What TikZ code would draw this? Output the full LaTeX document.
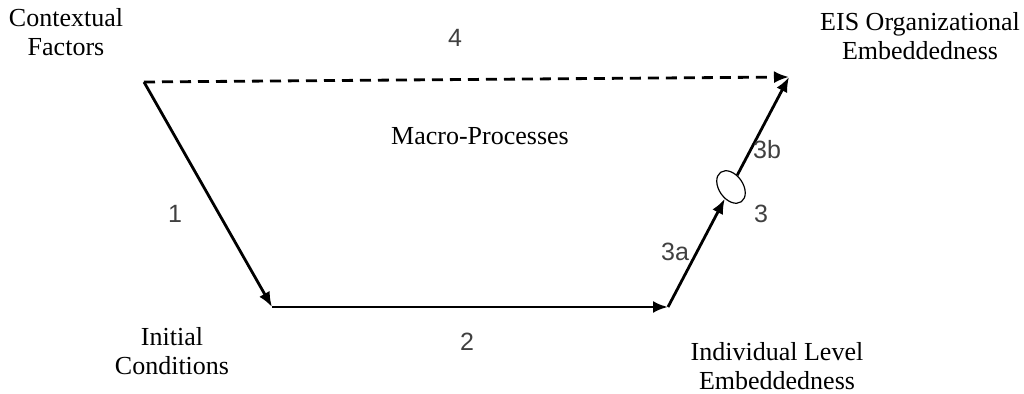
\documentclass[tikz,border=0pt]{standalone}
\usepackage{fontspec}
\setmainfont{Liberation Serif}
\newfontfamily\numfont{Liberation Sans}
\usetikzlibrary{arrows.meta,shapes.geometric}

\begin{document}
\begin{tikzpicture}[x=0.5pt,y=-0.5pt,
    lbl/.style={align=center,inner sep=0pt,font=\fontsize{13}{14.5}\selectfont},
    num/.style={inner sep=0pt,font=\numfont\fontsize{12.5}{14}\selectfont,text=black!75},
    link/.style={-{Latex[length=7.5pt,width=6pt]},line width=1.4pt},
    knot/.style={ellipse,draw,line width=0.6pt,minimum width=18pt,minimum height=12pt,inner sep=0pt}
  ]
  \useasboundingbox (0,0) rectangle (1024,394);
  \coordinate (ctx) at (144,82);
  \coordinate (init) at (272,307);
  \coordinate (indiv) at (668,307);
  \coordinate (eis) at (789,77);
  \node[knot,rotate=-55] (med) at (731,187) {};
  \draw[link] (ctx) -- (init);
  \draw[link] (init) -- (indiv);
  \draw[link] (indiv) -- (med);
  \draw[link] (med) -- (eis);
  \draw[link,dash pattern=on 5.5pt off 3.5pt] (ctx) -- (eis);
  \node[lbl] (ctxlbl) at (66,32) {Contextual\\Factors};
  \node[lbl] (eislbl) at (920,36) {EIS Organizational\\Embeddedness};
  \node[lbl] (initlbl) at (172,351) {Initial\\Conditions};
  \node[lbl] (indivlbl) at (777,366) {Individual Level\\Embeddedness};
  \node[lbl] (macro) at (480,136) {Macro-Processes};
  \node[num] (n4) at (455,38) {4};
  \node[num] (n1) at (175,214) {1};
  \node[num] (n2) at (467,342) {2};
  \node[num] (n3a) at (675,252) {3a};
  \node[num] (n3b) at (767,150) {3b};
  \node[num] (n3) at (761,214) {3};
\end{tikzpicture}
\end{document}
